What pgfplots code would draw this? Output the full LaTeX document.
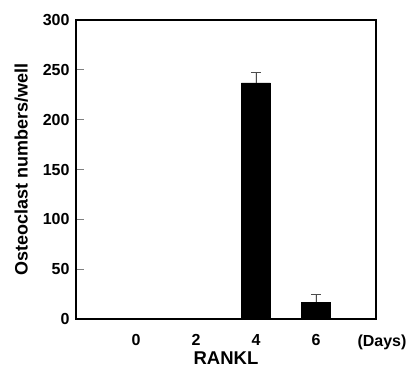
\documentclass[border=0pt]{standalone}
\usepackage{pgfplots}
\pgfplotsset{compat=1.18}
\usepackage{fontspec}
\setmainfont{Liberation Sans}
\begin{document}
\begin{tikzpicture}[x=1pt,y=1pt]
\begin{axis}[
  at={(0,0)}, anchor=south west,
  scale only axis, width=300pt, height=299pt,
  xmin=-1, xmax=4, ymin=0, ymax=300,
  axis line style={line width=2.8pt},
  ytick={0,50,...,300},
  ytick pos=left, tick align=inside,
  major tick length=8pt,
  ytick style={line width=1.2pt},
  xtick={0,1,2,3},
  xticklabels={0,2,4,6},
  x tick style={draw=none},
  /pgf/number format/assume math mode=true,
  tick label style={font=\bfseries\fontsize{16}{18}\selectfont},
  yticklabel style={xshift=-3pt},
  xticklabel style={yshift=-12pt},
  ylabel={Osteoclast numbers/well},
  ylabel style={font=\bfseries\fontsize{18}{20}\selectfont, yshift=8pt},
  xlabel={RANKL},
  xlabel style={font=\bfseries\fontsize{18.5}{20}\selectfont, yshift=1pt},
  clip=false,
]
\addplot[ybar, bar width=29pt, fill=black, draw=black,
  error bars/.cd, y dir=plus, y explicit,
  error bar style={line width=0.9pt, draw=black!70},
  error mark options={line width=0.9pt, draw=black!70, mark size=5pt, rotate=90}]
  coordinates {(0,0) (1,0) (2,237) +- (0,10) (3,17) +- (0,8)};
\node[font=\bfseries\fontsize{16}{18}\selectfont, anchor=north] at (axis cs:4.1,0) [yshift=-12pt] {(Days)};
\end{axis}
\pgfresetboundingbox
\path (-76pt,-55pt) rectangle (331pt,319pt);
\end{tikzpicture}
\end{document}
